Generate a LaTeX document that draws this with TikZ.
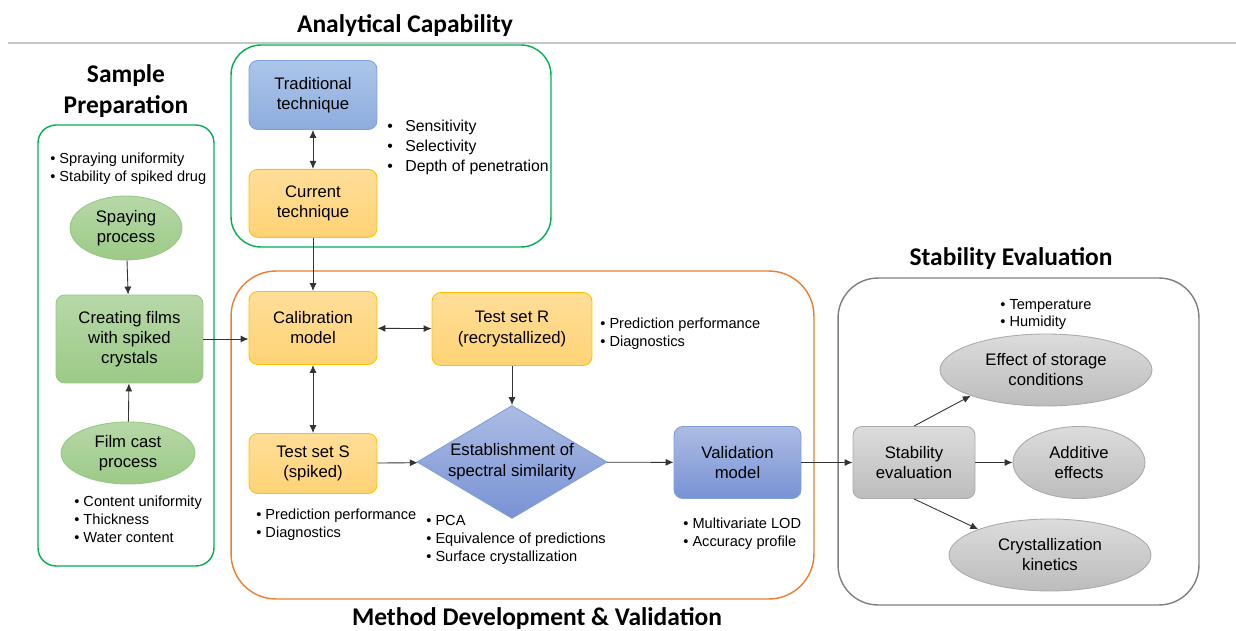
\documentclass[tikz,border=0pt]{standalone}
\usepackage{fontspec}
\setmainfont{Liberation Sans}
\newfontfamily\headfont{Carlito}
\usepackage{tikz}
\usetikzlibrary{shapes,arrows.meta,positioning}
\definecolor{framegreen}{RGB}{0,176,80}
\definecolor{frameorange}{RGB}{237,125,49}
\definecolor{framegray}{RGB}{127,127,127}
\definecolor{greentop}{RGB}{183,216,168}
\definecolor{greenbot}{RGB}{156,202,135}
\definecolor{greenline}{RGB}{150,200,130}
\definecolor{ambertop}{RGB}{255,222,152}
\definecolor{amberbot}{RGB}{255,211,118}
\definecolor{amberline}{RGB}{255,192,0}
\definecolor{bluetop}{RGB}{172,198,234}
\definecolor{bluebot}{RGB}{141,172,222}
\definecolor{blueline}{RGB}{125,160,215}
\definecolor{slatetop}{RGB}{172,188,228}
\definecolor{slatebot}{RGB}{120,146,212}
\definecolor{greytop}{RGB}{220,220,220}
\definecolor{greybot}{RGB}{188,188,188}
\definecolor{greyline}{RGB}{170,170,170}
\newcommand{\tabbul}{\makebox[0.36cm][l]{\textbullet}}

\tikzset{
  stepbox/.style={rectangle, rounded corners=5pt, line width=0.5pt, align=center, inner sep=2pt, minimum width=2.56cm},
  greenbox/.style={stepbox, draw=greenline, top color=greentop, bottom color=greenbot},
  amberbox/.style={stepbox, draw=amberline, top color=ambertop, bottom color=amberbot},
  bluebox/.style={stepbox, draw=blueline, top color=bluetop, bottom color=bluebot},
  greybox/.style={stepbox, draw=greyline, top color=greytop, bottom color=greybot},
  oval/.style={ellipse, line width=0.5pt, align=center, inner sep=1pt},
  note/.style={font=\fontsize{8.3}{10.2}\selectfont, align=left, inner sep=0pt, anchor=west},
  frame/.style={rectangle, line width=0.8pt, fill=none},
  heading/.style={font=\headfont\bfseries\fontsize{14.5}{17.6}\selectfont, align=center, inner sep=0pt}
}

\begin{document}
\begin{tikzpicture}[x=0.02cm, y=-0.02cm, font=\fontsize{9.5}{11.4}\selectfont, >={Latex[length=1.6mm,width=1.4mm]}, node distance=0.78cm]
        \useasboundingbox (0,0) rectangle (1236,631);

        % group frames and their headings
        \node[frame, draw=framegreen, rounded corners=0.36cm, minimum width=3.52cm, minimum height=8.82cm] (sampfr) at (126,345.5) {};
        \node[frame, draw=framegreen, rounded corners=0.6cm, minimum width=6.4cm, minimum height=4.04cm] (analfr) at (391,146) {};
        \node[frame, draw=frameorange, rounded corners=0.9cm, minimum width=11.66cm, minimum height=6.56cm] (methfr) at (522.5,435) {};
        \node[frame, draw=framegray, rounded corners=0.8cm, minimum width=7.22cm, minimum height=6.54cm] (stabfr) at (1018.5,441.5) {};

        \draw[black!22, line width=0.6pt] (8,43) -- (1236,43);

        \node[heading] (analtitle) at (405,26) {Analytical Capability};
        \node[heading] (samptitle) at (126,91) {Sample\\Preparation};
        \node[heading] (stabtitle) at (1011,259) {Stability Evaluation};
        \node[heading] (methtitle) at (537,619) {Method Development \& Validation};

        % sample preparation
        \node[note] (sampnote) at (50,169) {\textbullet\ Spraying uniformity\\\textbullet\ Stability of spiked drug};
        \node[oval, draw=greenline, top color=greentop, bottom color=greenbot, minimum width=2.24cm, minimum height=1.28cm] (spray) at (126,228) {Spaying\\process};
        \node[greenbox, minimum width=2.94cm, minimum height=1.76cm] (films) at (129.5,339) {Creating films\\with spiked\\crystals};
        \node[oval, draw=greenline, top color=greentop, bottom color=greenbot, minimum width=2.68cm, minimum height=1.24cm] (cast) at (128,453) {Film cast\\process};
        \node[note] (castnote) at (74,519) {\textbullet\ Content uniformity\\\textbullet\ Thickness\\\textbullet\ Water content};

        % analytical capability
        \node[bluebox, minimum height=1.38cm] (trad) at (313,95) {Traditional\\technique};
        \node[amberbox, minimum height=1.36cm, below=of trad] (curr) {Current\\technique};
        \node[note, font=\fontsize{9}{11.4}\selectfont] (analnote) at (387,147) {\tabbul Sensitivity\\\tabbul Selectivity\\\tabbul Depth of penetration};

        % method development
        \node[amberbox, minimum height=1.46cm] (calib) at (313,328) {Calibration\\model};
        \node[amberbox, minimum width=3.2cm, minimum height=1.46cm] (testr) at (512,329) {Test set R\\(recrystallized)};
        \node[note] (testrnote) at (600,334) {\textbullet\ Prediction performance\\\textbullet\ Diagnostics};
        \node[amberbox, minimum height=1.2cm] (tests) at (313,463.5) {Test set S\\(spiked)};
        \node[note] (testsnote) at (256,525) {\textbullet\ Prediction performance\\\textbullet\ Diagnostics};
        \node[diamond, draw=blueline, line width=0.5pt, top color=slatetop, bottom color=slatebot, inner sep=0pt, minimum width=3.8cm, minimum height=2.26cm] (simil) at (512,462) {\makebox[0pt]{\begin{tabular}{@{}c@{}}Establishment of\\spectral similarity\end{tabular}}};
        \node[note] (simnote) at (426,540) {\textbullet\ PCA\\\textbullet\ Equivalence of predictions\\\textbullet\ Surface crystallization};
        \node[stepbox, draw=blueline, top color=slatetop, bottom color=slatebot, minimum width=2.54cm, minimum height=1.44cm] (valid) at (737.5,462.5) {Validation\\model};
        \node[note] (validnote) at (683,534) {\textbullet\ Multivariate LOD\\\textbullet\ Accuracy profile};

        % stability evaluation
        \node[greybox, minimum width=2.44cm, minimum height=1.44cm] (stabev) at (914,462.5) {Stability\\evaluation};
        \node[note] (stornote) at (1000,314.5) {\textbullet\ Temperature\\\textbullet\ Humidity};
        \node[oval, draw=greyline, top color=greytop, bottom color=greybot, minimum width=4.24cm, minimum height=1.44cm] (storage) at (1046,370) {Effect of storage\\conditions};
        \node[oval, draw=greyline, top color=greytop, bottom color=greybot, minimum width=2.64cm, minimum height=1.44cm] (additive) at (1079,462.5) {Additive\\effects};
        \node[oval, draw=greyline, top color=greytop, bottom color=greybot, minimum width=4.04cm, minimum height=1.44cm] (kinetic) at (1050,555) {Crystallization\\kinetics};

        % connectors
        \draw[<->, black!80, line width=0.5pt] (trad) -- (curr);
        \draw[->, black!80, line width=0.5pt] (curr) -- (calib);
        \draw[->, black!80, line width=0.5pt] (spray) -- (films);
        \draw[->, black!80, line width=0.5pt] (cast) -- (films);
        \draw[->, black!80, line width=0.5pt] (films.east) -- (films.east -| calib.west);
        \draw[<->, black!80, line width=0.5pt] (calib) -- (testr);
        \draw[<->, black!80, line width=0.5pt] (calib) -- (tests);
        \draw[->, black!80, line width=0.5pt] (testr) -- (simil);
        \draw[->, black!80, line width=0.5pt] (tests) -- (simil);
        \draw[->, black!80, line width=0.5pt] (simil) -- (valid);
        \draw[->, black!80, line width=0.5pt] (valid) -- (stabev);
        \draw[->, black!80, line width=0.5pt] (stabev.north) -- (storage.south west);
        \draw[->, black!80, line width=0.5pt] (stabev) -- (additive);
        \draw[->, black!80, line width=0.5pt] (stabev.south) -- (kinetic.north west);
      \end{tikzpicture}
\end{document}
